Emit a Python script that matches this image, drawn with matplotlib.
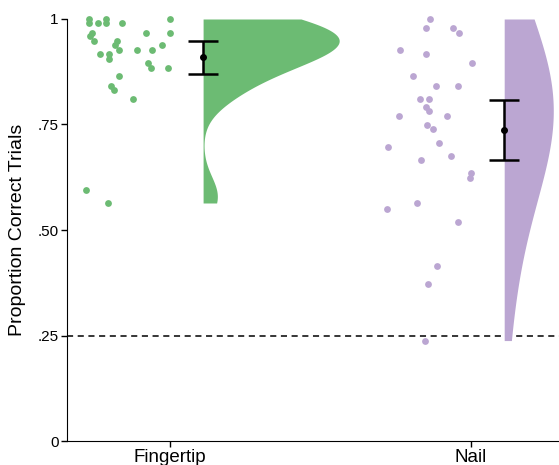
import numpy as np
import matplotlib
matplotlib.use("Agg")
import matplotlib.pyplot as plt

plt.rcParams['font.family'] = ['Liberation Sans', 'DejaVu Sans']

# categories and colours
conditions = ["Fingertip", "Nail"]
colors = ["#6cbb73", "#bba6d2"]

# proportion correct per participant
fingertip = [1.0, 0.99, 0.99, 1.0, 0.99, 0.99, 1.0, 0.968, 0.96, 0.948,
             0.968, 0.968, 0.948, 0.938, 0.926, 0.926, 0.926, 0.938, 0.917, 0.917,
             0.906, 0.896, 0.884, 0.884, 0.864, 0.842, 0.832, 0.811, 0.595, 0.564]
fingertip_jitter = [-0.268, -0.268, -0.240, -0.214, -0.214, -0.160, -0.001, -0.259, -0.267, -0.253,
                    -0.080, -0.001, -0.177, -0.184, -0.170, -0.110, -0.060, -0.026, -0.232, -0.203,
                    -0.203, -0.072, -0.063, -0.006, -0.168, -0.196, -0.186, -0.124, -0.279, -0.205]

nail = [1.0, 0.979, 0.979, 0.968, 0.926, 0.916, 0.895, 0.864, 0.842, 0.842,
        0.811, 0.811, 0.791, 0.781, 0.770, 0.770, 0.749, 0.739, 0.707, 0.697,
        0.676, 0.666, 0.634, 0.624, 0.564, 0.550, 0.519, 0.414, 0.373, 0.238]
nail_jitter = [-0.137, -0.149, -0.060, -0.040, -0.236, -0.150, 0.002, -0.192, -0.116, -0.043,
               -0.170, -0.139, -0.149, -0.141, -0.240, -0.079, -0.146, -0.126, -0.106, -0.277,
               -0.067, -0.167, 0.000, -0.004, -0.180, -0.280, -0.044, -0.113, -0.143, -0.154]

# mean and 95% CI
means = [0.909, 0.736]
ci_low = [0.870, 0.666]
ci_high = [0.947, 0.808]

chance = 0.25


def kde(values, grid, adjust):
    v = np.asarray(values)
    n = len(v)
    q75, q25 = np.percentile(v, [75, 25])
    bw = adjust * 0.9 * min(v.std(ddof=1), (q75 - q25) / 1.34) * n ** -0.2
    d = np.exp(-0.5 * ((grid[:, None] - v[None, :]) / bw) ** 2).sum(axis=1)
    return d / (n * bw * np.sqrt(2 * np.pi))


fig = plt.figure(figsize=(5.59, 4.65), dpi=100)
ax = fig.add_axes([67 / 559, 24 / 465, 492 / 559, 422 / 465])

data = [fingertip, nail]
jitters = [fingertip_jitter, nail_jitter]
max_width = [0.452, 0.163]
adjusts = [1.6, 2.2]
offset = 0.11

for i, (vals, jit, col) in enumerate(zip(data, jitters, colors)):
    g = np.linspace(min(vals), max(vals), 300)
    dd = kde(vals, g, adjusts[i])
    ax.fill_betweenx(g, i + offset, i + offset + dd / dd.max() * max_width[i],
                     color=col, lw=0, zorder=1)
    ax.scatter(np.array(jit) + i, vals, s=24, color=col, lw=0, zorder=2, clip_on=False)
    ax.errorbar(i + offset, means[i],
                yerr=[[means[i] - ci_low[i]], [ci_high[i] - means[i]]],
                fmt="o", color="black", ms=4, elinewidth=1.8, capsize=10.5,
                capthick=1.8, zorder=3)

ax.axhline(chance, color="black", ls=(0, (4, 3)), lw=1.1, zorder=0)

ax.set_xlim(-0.342, 1.292)
ax.set_ylim(0, 1)
ax.set_xticks([0, 1])
ax.set_xticklabels(conditions, fontsize=13.5)
ax.set_yticks([0, 0.25, 0.5, 0.75, 1])
ax.set_yticklabels(["0", ".25", ".50", ".75", "1"], fontsize=11)
ax.set_ylabel("Proportion Correct Trials", fontsize=14, labelpad=8)
ax.spines["top"].set_visible(False)
ax.spines["right"].set_visible(False)
ax.tick_params(length=4, width=1, pad=2)

fig.savefig("out.png", dpi=100)
